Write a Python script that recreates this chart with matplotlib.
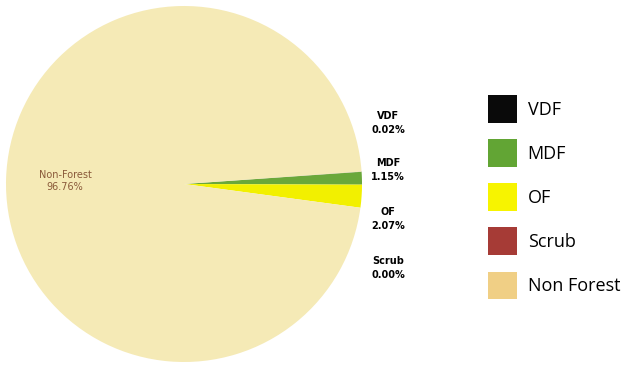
import matplotlib.pyplot as plt
from matplotlib.patches import Patch

categories = ["VDF", "MDF", "OF", "Scrub", "Non Forest"]
pie_labels = ["VDF", "MDF", "OF", "Scrub", "Non-Forest"]
shares = [0.02, 1.15, 2.07, 0.00, 96.76]
pie_colors = ["#111111", "#6aa83a", "#f2f000", "#a83a35", "#f5eab6"]
legend_colors = ["#0a0a0a", "#62a534", "#f7f400", "#a63b36", "#f0cf85"]


def make_plot():
    fig = plt.figure(figsize=(6.32, 3.67), dpi=100)
    W, H = 632, 367
    cx, cy, r = 184, 184, 178
    ax = fig.add_axes([(cx - r) / W, (H - cy - r) / H, 2 * r / W, 2 * r / H])
    ax.pie(shares, colors=pie_colors, startangle=4, counterclock=False,
           radius=1.0, wedgeprops=dict(linewidth=0))
    ax.set_xlim(-1, 1)
    ax.set_ylim(-1, 1)
    ax.axis("off")

    # percentage labels
    fig.text(65 / W, 1 - 181 / H, "%s\n%.2f%%" % (pie_labels[4], shares[4]),
             ha="center", va="center", fontsize=7, color="#8a5a3a",
             linespacing=1.3)
    ys = [123, 170, 219, 268]
    for lab, val, y in zip(pie_labels[:4], shares[:4], ys):
        fig.text(388 / W, 1 - y / H, "%s\n%.2f%%" % (lab, val),
                 ha="center", va="center", fontsize=7, fontweight="bold",
                 color="black", linespacing=1.6)

    handles = [Patch(facecolor=c, edgecolor="none") for c in legend_colors]
    fig.legend(handles, categories, loc="upper left",
               bbox_to_anchor=(488 / W, 1 - 95 / H), frameon=False,
               borderpad=0, borderaxespad=0,
               handlelength=1.6, handleheight=2.0,
               labelspacing=0.9, handletextpad=0.6,
               prop={"family": "Open Sans", "size": 13})

    fig.savefig("out.png", dpi=100)


if __name__ == "__main__":
    make_plot()
